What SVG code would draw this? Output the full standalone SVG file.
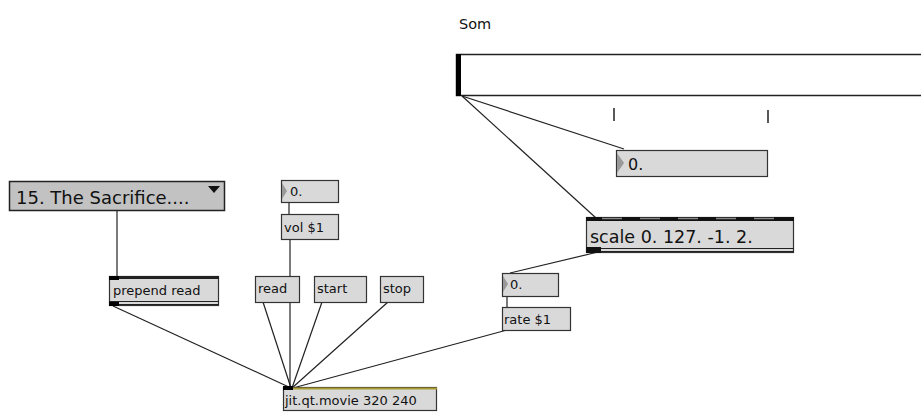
<svg xmlns="http://www.w3.org/2000/svg" width="921" height="416" viewBox="0 0 921 416">
<style>
.box{fill:#d9d9d9;stroke:#333;stroke-width:1.2}
.t{font-family:"DejaVu Sans","Liberation Sans",sans-serif;fill:#111}
.s{font-size:13px}
.c line{stroke:#222;stroke-width:1.2}
</style>
<rect width="921" height="416" fill="#fff"/>
<text class="t" x="459" y="29" font-size="14.5" fill="#222">Som</text>
<g class="c">
<line x1="462" y1="96" x2="624" y2="149"/>
<line x1="462" y1="96" x2="596" y2="218"/>
<line x1="598" y1="252" x2="510" y2="273"/>
<line x1="117" y1="210" x2="117" y2="276"/>
<line x1="289" y1="202" x2="289" y2="214"/>
<line x1="290" y1="239" x2="290" y2="388"/>
<line x1="507" y1="296" x2="507" y2="307"/>
<line x1="113" y1="306" x2="291" y2="388"/>
<line x1="263" y1="302" x2="291" y2="388"/>
<line x1="322" y1="302" x2="292" y2="388"/>
<line x1="388" y1="302" x2="292" y2="388"/>
<line x1="507" y1="330" x2="293" y2="388"/>
</g>
<g id="slider">
<rect x="456.5" y="54.5" width="470" height="41" fill="#fff" stroke="#222" stroke-width="1.5"/>
<rect x="456" y="54" width="5" height="42" fill="#000"/>
<line x1="614" y1="108" x2="614" y2="121" stroke="#222" stroke-width="1.5"/>
<line x1="768" y1="110" x2="768" y2="123" stroke="#222" stroke-width="1.5"/>
</g>
<g id="numTop">
<rect class="box" x="616.5" y="150.5" width="151" height="26"/>
<polygon points="617,153 624,163 617,173" fill="#999"/>
<text class="t" x="628" y="170" font-size="16">0.</text>
</g>
<g id="scale">
<rect class="box" x="586.5" y="217.5" width="207" height="35"/>
<rect x="586" y="217" width="208" height="4" fill="#111"/>
<g stroke="#888" stroke-width="1.5"><line x1="602" y1="218.5" x2="622" y2="218.5"/><line x1="640" y1="218.5" x2="660" y2="218.5"/><line x1="678" y1="218.5" x2="698" y2="218.5"/><line x1="716" y1="218.5" x2="736" y2="218.5"/><line x1="754" y1="218.5" x2="774" y2="218.5"/></g>
<line x1="586" y1="248.5" x2="794" y2="248.5" stroke="#222"/>
<line x1="586" y1="251.5" x2="794" y2="251.5" stroke="#222"/>
<rect x="586" y="247" width="15" height="6" fill="#111"/>
<text class="t" x="590" y="243" font-size="17.5">scale 0. 127. -1. 2.</text>
</g>
<g id="menu">
<rect x="9.5" y="181.5" width="215" height="29" fill="#c2c2c2" stroke="#222" stroke-width="1.5"/>
<text class="t" x="16" y="204" font-size="18" fill="#222">15. The Sacrifice....</text>
<polygon points="208,186 220,186 214,193" fill="#111"/>
</g>
<g id="prepend">
<rect class="box" x="109.5" y="276.5" width="109" height="29"/>
<rect x="109" y="276" width="110" height="3" fill="#222"/>
<rect x="109" y="276" width="10" height="4" fill="#000"/>
<line x1="109" y1="301.5" x2="219" y2="301.5" stroke="#222"/>
<line x1="109" y1="304.5" x2="219" y2="304.5" stroke="#222"/>
<rect x="109" y="302" width="10" height="4" fill="#000"/>
<text class="t s" x="113" y="295">prepend read</text>
</g>
<g id="numVol">
<rect class="box" x="281.5" y="180.5" width="57" height="22"/>
<polygon points="282,183 287,191 282,199" fill="#999"/>
<text class="t s" x="290" y="196">0.</text>
</g>
<g id="vol">
<rect class="box" x="281.5" y="214.5" width="57" height="25"/>
<text class="t s" x="284" y="232">vol $1</text>
</g>
<g id="read">
<rect class="box" x="255.5" y="276.5" width="44" height="26"/>
<text class="t s" x="258" y="293">read</text>
</g>
<g id="start">
<rect class="box" x="314.5" y="276.5" width="52" height="26"/>
<text class="t s" x="317" y="293">start</text>
</g>
<g id="stop">
<rect class="box" x="380.5" y="276.5" width="43" height="26"/>
<text class="t s" x="383" y="293">stop</text>
</g>
<g id="numRate">
<rect class="box" x="502.5" y="273.5" width="56" height="23"/>
<polygon points="503,276 508,284 503,292" fill="#999"/>
<text class="t s" x="510" y="289">0.</text>
</g>
<g id="rate">
<rect class="box" x="502.5" y="307.5" width="68" height="23"/>
<text class="t s" x="504" y="324">rate $1</text>
</g>
<g id="movie">
<rect class="box" x="283.5" y="387.5" width="153" height="23"/>
<line x1="283" y1="388.5" x2="437" y2="388.5" stroke="#a89a30" stroke-width="2"/>
<rect x="283" y="386" width="10" height="4" fill="#000"/>
<text class="t s" x="285" y="405">jit.qt.movie 320 240</text>
</g>
</svg>
